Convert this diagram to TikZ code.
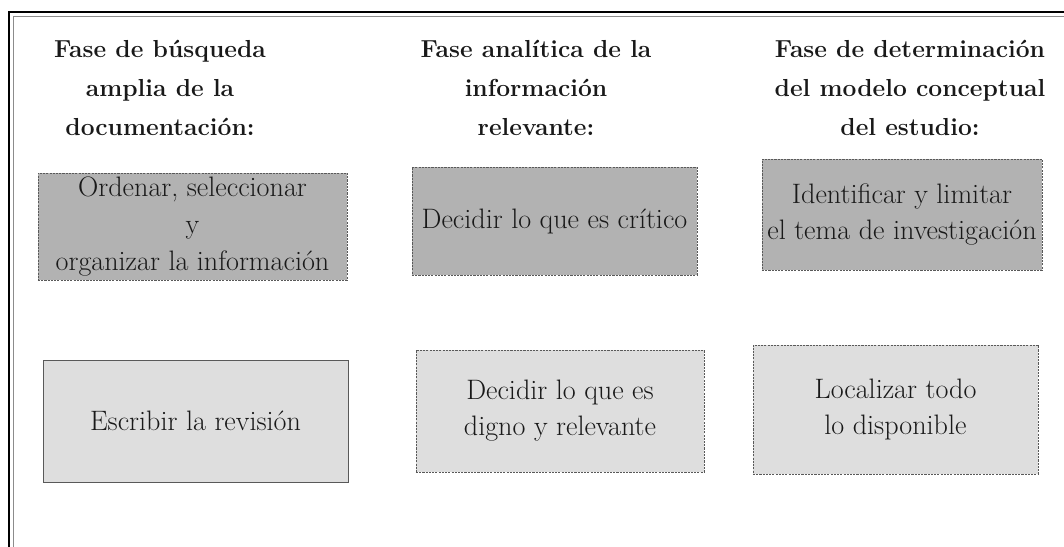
\documentclass[tikz,border=0pt]{standalone}
\usepackage{fontspec}

\begin{document}
\begin{tikzpicture}[x=0.025cm, y=-0.025cm,
    box/.style={rectangle, draw=black!65, line width=0.5pt, text=black!90,
        align=center, inner sep=0pt, font=\fontsize{20}{25.5}\selectfont},
    darkbox/.style={box, fill=black!30, dash pattern=on 1.5pt off 0.8pt},
    lightbox/.style={box, fill=black!13, dash pattern=on 1.5pt off 0.8pt},
    phase/.style={align=center, anchor=base, text=black!90,
        font=\fontsize{17.5}{27.6}\selectfont\bfseries}]
    \useasboundingbox (0,0) rectangle (1064,546);
    \clip (0,0) rectangle (1064,546);
    % double frame, open at right and bottom
    \draw[line width=1.4pt] (9,560) -- (9,12) -- (1080,12);
    \draw[line width=0.7pt, black!45] (13,560) -- (13,16) -- (1080,16);
    % phase headings (anchored on the last line)
    \node[phase] (h1) at (160,135) {Fase de búsqueda\\amplia de la\\documentación:};
    \node[phase] (h2) at (536,135) {Fase analítica de la\\información\\relevante:};
    \node[phase] (h3) at (910,135) {Fase de determinación\\del modelo conceptual\\del estudio:};
    % upper row
    \node[darkbox, minimum width=7.725cm, minimum height=2.675cm,
        font=\fontsize{20}{26.5}\selectfont] (ordenar) at (192.5,226.5)
        {Ordenar, seleccionar\\y\\organizar la información};
    \node[darkbox, minimum width=7.125cm, minimum height=2.7cm] (critico) at (554.5,221)
        {Decidir lo que es crítico};
    \node[darkbox, minimum width=7cm, minimum height=2.775cm] (tema) at (902,214.5)
        {Identificar y limitar\\el tema de investigación};
    % lower row
    \node[lightbox, solid, minimum width=7.625cm, minimum height=3.05cm] (revision) at (195.5,421)
        {Escribir la revisión};
    \node[lightbox, minimum width=7.2cm, minimum height=3.05cm] (digno) at (560,411)
        {Decidir lo que es\\digno y relevante};
    \node[lightbox, minimum width=7.125cm, minimum height=3.225cm] (localizar) at (895.5,409.5)
        {Localizar todo\\lo disponible};
\end{tikzpicture}
\end{document}
